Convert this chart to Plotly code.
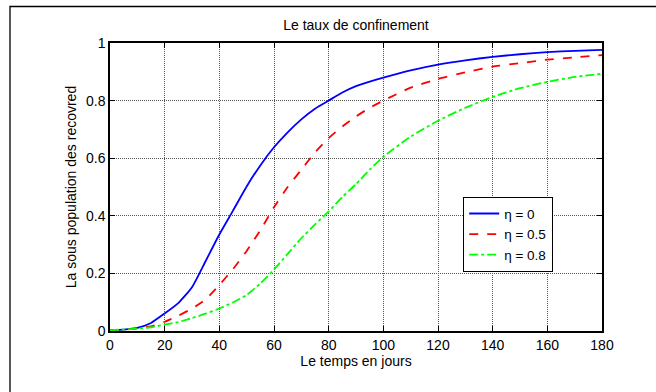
import plotly.graph_objects as go

t_days = [0, 5, 10, 15, 20, 25, 30, 35, 40, 45, 50, 55, 60, 65, 70, 75, 80, 85, 90, 95,
          100, 110, 120, 130, 140, 150, 160, 170, 180]
eta_0 = [0.003, 0.005, 0.011, 0.028, 0.061, 0.097, 0.152, 0.243, 0.335, 0.418, 0.502, 0.575,
         0.638, 0.69, 0.735, 0.772, 0.80, 0.828, 0.85, 0.866, 0.88, 0.905, 0.925, 0.94,
         0.952, 0.961, 0.968, 0.973, 0.976]
eta_05 = [0.003, 0.005, 0.009, 0.016, 0.032, 0.053, 0.078, 0.11, 0.16, 0.215, 0.278, 0.35,
          0.43, 0.50, 0.56, 0.62, 0.67, 0.71, 0.745, 0.775, 0.80, 0.845, 0.875, 0.898,
          0.918, 0.93, 0.942, 0.95, 0.958]
eta_08 = [0.003, 0.005, 0.008, 0.013, 0.022, 0.031, 0.045, 0.06, 0.078, 0.099, 0.125,
          0.165, 0.213, 0.268, 0.322, 0.37, 0.415, 0.465, 0.51, 0.56, 0.605, 0.675, 0.73,
          0.775, 0.813, 0.843, 0.865, 0.882, 0.893]
series_names = ["η = 0", "η = 0.5", "η = 0.8"]
x_ticks = [0, 20, 40, 60, 80, 100, 120, 140, 160, 180]
y_ticks = [0, 0.2, 0.4, 0.6, 0.8, 1]
y_tick_labels = ["0", "0.2", "0.4", "0.6", "0.8", "1"]

FONT = "Liberation Sans, Arial, sans-serif"

fig = go.Figure()
fig.add_trace(go.Scatter(x=t_days, y=eta_0, mode="lines", name=series_names[0],
                         line=dict(color="#0000ff", width=1.8, shape="spline", smoothing=0.5)))
fig.add_trace(go.Scatter(x=t_days, y=eta_05, mode="lines", name=series_names[1],
                         line=dict(color="#ff0000", width=1.8, dash="dash",
                                   shape="spline", smoothing=0.5)))
fig.add_trace(go.Scatter(x=t_days, y=eta_08, mode="lines", name=series_names[2],
                         line=dict(color="#00ff00", width=1.8, dash="dashdot",
                                   shape="spline", smoothing=0.5)))

axis_common = dict(
    showline=True, linecolor="black", linewidth=1.5, mirror="ticks",
    ticks="inside", ticklen=5, tickcolor="black", tickwidth=1,
    showgrid=True, gridcolor="#555555", gridwidth=1, griddash="1px,1px",
    zeroline=False, tickfont=dict(family=FONT, size=14, color="black"),
)

fig.update_xaxes(range=[0, 180], tickvals=x_ticks, ticktext=[str(v) for v in x_ticks],
                 title=dict(text="Le temps en jours", font=dict(family=FONT, size=14, color="black"),
                            standoff=1),
                 **axis_common)
fig.update_yaxes(range=[0, 1], tickvals=y_ticks, ticktext=y_tick_labels,
                 title=dict(text="La sous population des recovred",
                            font=dict(family=FONT, size=14, color="black"), standoff=6),
                 **axis_common)

fig.update_layout(
    width=656, height=392,
    margin=dict(l=110, r=54, t=43, b=61),
    paper_bgcolor="white", plot_bgcolor="white",
    title=dict(text="Le taux de confinement", x=(356) / 656, xanchor="center",
               y=1 - 25 / 392, yanchor="middle",
               font=dict(family=FONT, size=14, color="black")),
    showlegend=True,
    legend=dict(x=(463 - 110) / 492, y=(331 - 197) / 288, xanchor="left", yanchor="top",
                bgcolor="white", bordercolor="black", borderwidth=1.2,
                font=dict(family=FONT, size=13.5, color="black"),
                itemwidth=30, tracegroupgap=0),
    shapes=[dict(type="rect", xref="paper", yref="paper",
                 x0=(10 - 110) / 492, x1=(700 - 110) / 492,
                 y0=(331 - 420) / 288, y1=(331 - 6.5) / 288,
                 line=dict(color="black", width=1.3), layer="below")],
)

fig.write_html("out.html", config={"displayModeBar": False},
               post_script="document.body.style.margin='0';document.body.style.overflow='hidden';")
